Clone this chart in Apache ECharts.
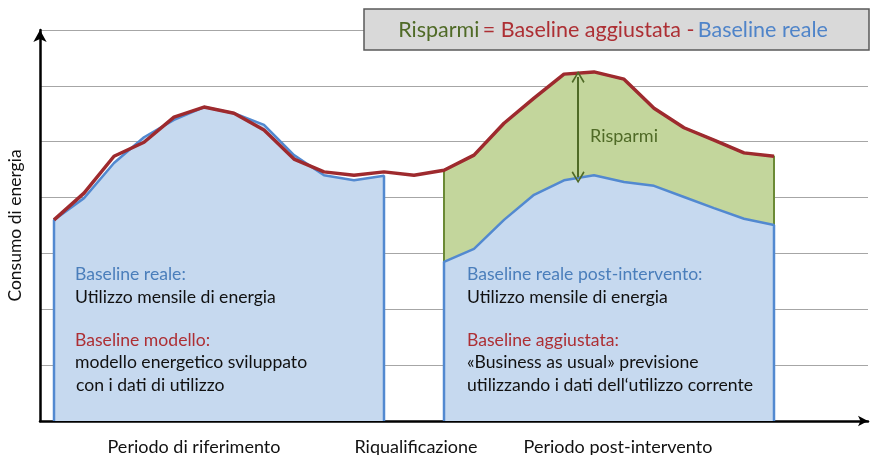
<!DOCTYPE html>
<html>
<head>
<meta charset="utf-8">
<script src="https://cdn.jsdelivr.net/npm/echarts@6/dist/echarts.min.js"></script>
<style>
  html, body { margin: 0; padding: 0; background: #fff; }
  #chart { width: 870px; height: 455px; }
</style>
</head>
<body>
<div id="chart"></div>
<script>
// monthly points, index 0..24
const months = Array.from({ length: 25 }, (_, i) => i)
// baseline modello / aggiustata (red line, all months)
const adjusted = [3.60, 4.08, 4.74, 4.99, 5.44, 5.62, 5.51, 5.21, 4.69, 4.46, 4.40, 4.46, 4.40,
    4.49, 4.76, 5.33, 5.78, 6.21, 6.25, 6.12, 5.60, 5.25, 5.03, 4.80, 4.74]
// baseline reale, reference period (months 0..11)
const realBefore = [3.60, 3.99, 4.62, 5.08, 5.39, 5.62, 5.51, 5.30, 4.76, 4.40, 4.31, 4.39]
// baseline reale post-intervento (months 13..24)
const realAfter = [2.85, 3.08, 3.60, 4.05, 4.31, 4.40, 4.28, 4.21, 4.01, 3.81, 3.62, 3.51]
const afterStart = 13
const periodLabels = ['Periodo di riferimento', 'Riqualificazione', 'Periodo post-intervento']
const yTicks = [0, 1, 2, 3, 4, 5, 6, 7]

const BLUE_LINE = '#5289d0', BLUE_FILL = '#c6d9ef'
const GREEN_LINE = '#6b8a35', GREEN_FILL = '#c3d69c', GREEN_TEXT = '#4f6a26'
const RED = '#9e2a2e', RED_TEXT = '#ad2f34'
const FONT = 'Lato'

// closed area: drop to 0 at both ends so the vertical edges get drawn
function closed(startIdx, vals) {
    const pts = vals.map((v, i) => [startIdx + i, v])
    return [[startIdx, 0], ...pts, [startIdx + vals.length - 1, 0]]
}
function lerp(arr, x, offset) {
    const i = Math.floor(x) - offset
    const t = x - Math.floor(x)
    return arr[i] + (arr[i + 1] - arr[i]) * t
}

const arrowX = 17.47
const arrowTop = lerp(adjusted, arrowX, 0) - 0.07
const arrowBottom = lerp(realAfter, arrowX, afterStart) + 0.01

const chart = echarts.init(document.getElementById('chart'))

function txt(x, y, text, color, size, align) {
    return {
        type: 'text', x, y, silent: true, z: 10,
        style: {
            text, fill: color, fontSize: size || 17.6, fontFamily: FONT,
            align: align || 'left', verticalAlign: 'middle'
        }
    }
}

const lineYs = [274, 297, 340, 362, 385]
const arrowHead = 'path://M0,0 L6,9 L4.8,10 L0,2.6 L-4.8,10 L-6,9 Z'

chart.setOption({
    backgroundColor: '#fff',
    animation: false,
    grid: { left: 40, right: 2, top: 30, bottom: 34, outerBoundsMode: 'none', containLabel: false },
    xAxis: {
        type: 'value',
        min: -14 / 30,
        max: -14 / 30 + 828 / 30,
        axisLine: { show: true, onZero: false, symbol: ['none', 'arrow'], symbolSize: [8, 10], lineStyle: { color: '#000', width: 2.5 } },
        axisTick: { show: false },
        axisLabel: { show: false },
        splitLine: { show: false }
    },
    yAxis: {
        type: 'value',
        min: yTicks[0],
        max: yTicks[yTicks.length - 1],
        interval: 1,
        name: 'Consumo di energia',
        nameLocation: 'middle',
        nameGap: 16,
        nameRotate: 90,
        nameTextStyle: { color: '#111', fontSize: 17.5, fontFamily: FONT },
        axisLine: { show: true, onZero: false, symbol: ['none', 'arrow'], symbolSize: [10, 12], lineStyle: { color: '#000', width: 2.5 } },
        axisTick: { show: false },
        axisLabel: { show: false },
        splitLine: { show: true, lineStyle: { color: '#a6a6a6', width: 1.2 } }
    },
    series: [
        {
            // savings area (green) = adjusted baseline over post period
            type: 'line',
            data: closed(afterStart, adjusted.slice(afterStart)),
            symbol: 'none',
            lineStyle: { color: GREEN_LINE, width: 2 },
            areaStyle: { color: GREEN_FILL, opacity: 1 },
            z: 2
        },
        {
            type: 'line',
            data: closed(afterStart, realAfter),
            symbol: 'none',
            lineStyle: { color: BLUE_LINE, width: 2.5 },
            areaStyle: { color: BLUE_FILL, opacity: 1 },
            z: 3
        },
        {
            type: 'line',
            data: closed(0, realBefore),
            symbol: 'none',
            lineStyle: { color: BLUE_LINE, width: 2.5 },
            areaStyle: { color: BLUE_FILL, opacity: 1 },
            z: 3
        },
        {
            type: 'line',
            data: months.map(i => [i, adjusted[i]]),
            symbol: 'none',
            lineStyle: { color: RED, width: 3.5 },
            z: 4,
            markLine: {
                silent: true,
                symbol: [arrowHead, arrowHead],
                symbolSize: [13, 12],
                label: { show: false },
                lineStyle: { color: GREEN_TEXT, width: 2, type: 'solid' },
                data: [[{ coord: [arrowX, arrowTop] }, { coord: [arrowX, arrowBottom] }]]
            }
        }
    ],
    graphic: [
        {
            type: 'rect', silent: true,
            shape: { x: 364, y: 9, width: 505, height: 41 },
            style: { fill: '#d9d9d9', stroke: '#5a5a5a', lineWidth: 1.5 },
            z: 10
        },
        {
            type: 'text', x: 613, y: 30, silent: true, z: 11,
            style: {
                text: '{g|Risparmi} {r|= Baseline aggiustata -} {b|Baseline reale}',
                align: 'center', verticalAlign: 'middle',
                rich: {
                    g: { fill: GREEN_TEXT, fontSize: 21.5, fontFamily: FONT },
                    r: { fill: RED_TEXT, fontSize: 21.5, fontFamily: FONT },
                    b: { fill: '#4f84c9', fontSize: 21.5, fontFamily: FONT }
                }
            }
        },
        txt(590, 136, 'Risparmi', GREEN_TEXT, 18),
        txt(75, lineYs[0], 'Baseline reale:', '#4a7ebb'),
        txt(75, lineYs[1], 'Utilizzo mensile di energia', '#111'),
        txt(75, lineYs[2], 'Baseline modello:', RED_TEXT),
        txt(75, lineYs[3], 'modello energetico sviluppato', '#111'),
        txt(76, lineYs[4], 'con i dati di utilizzo', '#111'),
        txt(467, lineYs[0], 'Baseline reale post-intervento:', '#4a7ebb'),
        txt(467, lineYs[1], 'Utilizzo mensile di energia', '#111'),
        txt(467, lineYs[2], 'Baseline aggiustata:', RED_TEXT),
        txt(467, lineYs[3], '«Business as usual» previsione', '#111'),
        txt(467, lineYs[4], 'utilizzando i dati dell\u2018utilizzo corrente', '#111'),
        txt(194, 447, periodLabels[0], '#111', 18, 'center'),
        txt(416, 447, periodLabels[1], '#111', 18, 'center'),
        txt(618, 447, periodLabels[2], '#111', 18, 'center')
    ]
})
</script>
</body>
</html>
